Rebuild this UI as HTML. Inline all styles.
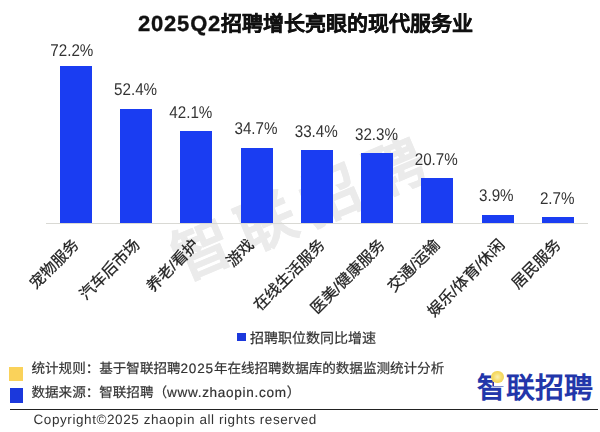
<!DOCTYPE html>
<html lang="zh-CN">
<head>
<meta charset="utf-8">
<style>
*{margin:0;padding:0;box-sizing:border-box}
html,body{width:600px;height:432px;overflow:hidden;background:#fff}
body{position:relative;font-family:"Liberation Sans",sans-serif;color:#333;text-rendering:geometricPrecision}
.a{position:absolute;white-space:nowrap}
.title{left:138px;top:10.5px;font-size:21px;font-weight:bold;color:#111;line-height:26px;-webkit-text-stroke:0.35px #111}
.title span{letter-spacing:0.8px;font-size:22px}
.wm{position:absolute;white-space:nowrap;font-size:58px;font-weight:bold;color:#ebebeb;-webkit-text-stroke:0.6px #ebebeb;line-height:58px;transform-origin:0 29px;letter-spacing:12.0px}
.bar{position:absolute;background:#1a3df2;width:31.6px}
.axis{position:absolute;left:46px;top:223px;width:542px;height:1px;background:#d9d9d4}
.val{position:absolute;font-size:15.2px;color:#333;width:80px;text-align:center;line-height:16px;height:16px;transform-origin:50% 100%;transform:scaleY(1.12)}
.cat{position:absolute;font-size:15.5px;color:#222;-webkit-text-stroke:0.25px #222;line-height:20px;height:20px;transform-origin:100% 50%;transform:rotate(-45deg);text-align:right;width:160px}
.leg{left:250px;top:329.5px;font-size:14px;color:#333;-webkit-text-stroke:0.2px #333;line-height:16px}
.sq{position:absolute}
.g{filter:grayscale(1)}
.ft{left:31.5px;font-size:13.55px;color:#333;-webkit-text-stroke:0.2px #333;line-height:16px}
.ft span{letter-spacing:0.7px}
.ft b{font-weight:normal;letter-spacing:0.8px}
.hr{position:absolute;left:10px;top:409px;width:588px;height:1px;background:#222}
.copy{left:33.5px;top:412px;font-size:13.5px;color:#333;line-height:16px;letter-spacing:0.58px}
.logo{left:477px;top:370.5px;font-size:29px;font-weight:bold;color:#2236aa;line-height:36px}
.ym{position:absolute;left:493.6px;top:371px;width:11px;height:15px;background:#fff}
.yc{position:absolute;left:491.3px;top:371.1px;width:12.4px;height:12.4px;border-radius:50%;background:radial-gradient(circle,#fbf0b0 0,#f6dc6a 45%,#eccb4a 100%)}
</style>
</head>
<body>
<div class="wm" style="left:176.3px;top:234.3px;transform:rotate(-23.0deg)">智联招聘</div>

<div class="a title g"><span>2025Q2</span>招聘增长亮眼的现代服务业</div>

<div class="axis"></div>
<div class="bar" style="left:60.00px;top:66.00px;height:157.00px"></div>
<div class="bar" style="left:120.00px;top:109.06px;height:113.94px"></div>
<div class="bar" style="left:180.00px;top:131.45px;height:91.55px"></div>
<div class="bar" style="left:241.00px;top:147.54px;height:75.46px"></div>
<div class="bar" style="left:301.00px;top:150.37px;height:72.63px"></div>
<div class="bar" style="left:361.00px;top:152.76px;height:70.24px"></div>
<div class="bar" style="left:421.00px;top:177.99px;height:45.01px"></div>
<div class="bar" style="left:482.00px;top:214.52px;height:8.48px"></div>
<div class="bar" style="left:542.00px;top:217.13px;height:5.87px"></div>

<div class="val g" style="left:31.85px;top:43.60px">72.2%</div>
<div class="val g" style="left:95.60px;top:83.20px">52.4%</div>
<div class="val g" style="left:150.85px;top:106.00px">42.1%</div>
<div class="val g" style="left:216.00px;top:122.00px">34.7%</div>
<div class="val g" style="left:276.25px;top:124.80px">33.4%</div>
<div class="val g" style="left:336.50px;top:127.60px">32.3%</div>
<div class="val g" style="left:396.25px;top:153.00px">20.7%</div>
<div class="val g" style="left:456.30px;top:189.20px">3.9%</div>
<div class="val g" style="left:517.20px;top:191.90px">2.7%</div>

<div class="cat g" style="left:-82.90px;top:233.00px">宠物服务</div>
<div class="cat g" style="left:-22.10px;top:233.00px">汽车后市场</div>
<div class="cat g" style="left:36.70px;top:233.00px">养老/看护</div>
<div class="cat g" style="left:92.00px;top:233.00px">游戏</div>
<div class="cat g" style="left:162.50px;top:233.00px">在线生活服务</div>
<div class="cat g" style="left:222.80px;top:233.00px">医美/健康服务</div>
<div class="cat g" style="left:278.00px;top:233.00px">交通/运输</div>
<div class="cat g" style="left:343.20px;top:233.00px">娱乐/体育/休闲</div>
<div class="cat g" style="left:398.90px;top:233.00px">居民服务</div>

<div class="sq" style="left:237.4px;top:332.7px;width:8.6px;height:8.4px;background:#1b38dc"></div>
<div class="a leg g">招聘职位数同比增速</div>

<div class="sq" style="left:9.2px;top:367px;width:13.7px;height:14.2px;background:#fad25a"></div>
<div class="sq" style="left:9.5px;top:388px;width:13.6px;height:14.6px;background:#1b38dc"></div>
<div class="a ft g" style="top:361px">统计规则：基于智联招聘<b>2025</b>年在线招聘数据库的数据监测统计分析</div>
<div class="a ft g" style="top:385px">数据来源：智联招聘（<span>www.zhaopin.com</span>）</div>

<div class="a logo">智联招聘</div>
<div class="ym"></div><div class="yc"></div>

<div class="hr"></div>
<div class="a copy g">Copyright©2025 zhaopin all rights reserved</div>
</body>
</html>
